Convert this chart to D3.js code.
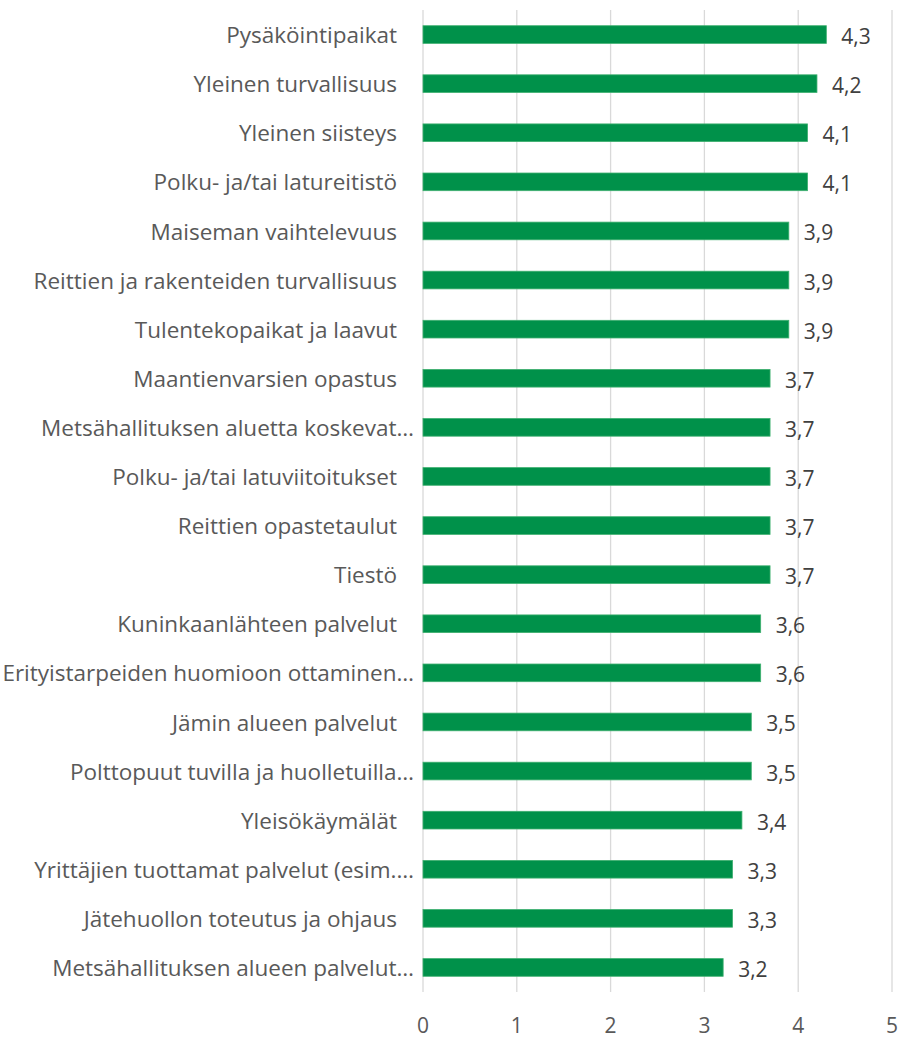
<!DOCTYPE html>
<html>
<head>
<meta charset="utf-8">
<script src="https://cdn.jsdelivr.net/npm/d3@7"></script>
<style>
  body { margin: 0; background: #fff; }
  text { font-family: "Segoe UI", "Open Sans", sans-serif; }
</style>
</head>
<body>
<script>
let width = 902,
    height = 1040;

const categories = [
    "Pysäköintipaikat",
    "Yleinen turvallisuus",
    "Yleinen siisteys",
    "Polku- ja/tai latureitistö",
    "Maiseman vaihtelevuus",
    "Reittien ja rakenteiden turvallisuus",
    "Tulentekopaikat ja laavut",
    "Maantienvarsien opastus",
    "Metsähallituksen aluetta koskevat…",
    "Polku- ja/tai latuviitoitukset",
    "Reittien opastetaulut",
    "Tiestö",
    "Kuninkaanlähteen palvelut",
    "Erityistarpeiden huomioon ottaminen…",
    "Jämin alueen palvelut",
    "Polttopuut tuvilla ja huolletuilla…",
    "Yleisökäymälät",
    "Yrittäjien tuottamat palvelut (esim.…",
    "Jätehuollon toteutus ja ohjaus",
    "Metsähallituksen alueen palvelut…"
];
const values = [4.3, 4.2, 4.1, 4.1, 3.9, 3.9, 3.9, 3.7, 3.7, 3.7, 3.7, 3.7, 3.6, 3.6, 3.5, 3.5, 3.4, 3.3, 3.3, 3.2];
const ticks = [0, 1, 2, 3, 4, 5];

const margin = {top: 10, right: 10, bottom: 48, left: 423};

const x = d3.scaleLinear()
    .domain([0, 5])
    .range([margin.left, 892]);

const y = d3.scaleBand()
    .domain(categories)
    .range([margin.top, height - margin.bottom])
    .paddingInner(0.64)
    .paddingOuter(0.32);

const svg = d3.select("body").append("svg")
    .attr("width", width)
    .attr("height", height);

// gridlines
svg.append("g")
    .selectAll("line")
    .data(ticks)
    .enter().append("line")
    .attr("x1", d => x(d))
    .attr("x2", d => x(d))
    .attr("y1", margin.top)
    .attr("y2", height - margin.bottom)
    .attr("stroke", "#d9d9d9")
    .attr("stroke-width", 1.3);

// tick labels
svg.append("g")
    .selectAll("text")
    .data(ticks)
    .enter().append("text")
    .attr("x", d => x(d))
    .attr("y", 1033)
    .attr("text-anchor", "middle")
    .attr("fill", "#595959")
    .style("font-size", "21px")
    .text(d => d);

// bars
svg.append("g")
    .selectAll("rect")
    .data(values)
    .enter().append("rect")
    .attr("x", x(0))
    .attr("y", (d, i) => y(categories[i]))
    .attr("width", d => x(d) - x(0))
    .attr("height", y.bandwidth())
    .attr("fill", "#00914a")
    .attr("stroke", "#3fb070")
    .attr("stroke-width", 0.8);

// category labels
svg.append("g")
    .selectAll("text")
    .data(categories)
    .enter().append("text")
    .attr("x", x(0))
    .attr("dx", d => d.endsWith("…") ? -9 : -26)
    .attr("y", d => y(d) + y.bandwidth() / 2)
    .attr("dy", "0.38em")
    .attr("text-anchor", "end")
    .attr("fill", "#595959")
    .style("font-size", "22.5px")
    .text(d => d);

// value labels
svg.append("g")
    .selectAll("text")
    .data(values)
    .enter().append("text")
    .attr("x", d => x(d) + 15)
    .attr("y", (d, i) => y(categories[i]) + y.bandwidth() / 2)
    .attr("dy", "0.45em")
    .attr("fill", "#404040")
    .style("font-size", "21px")
    .text(d => d.toFixed(1).replace(".", ","));
</script>
</body>
</html>
